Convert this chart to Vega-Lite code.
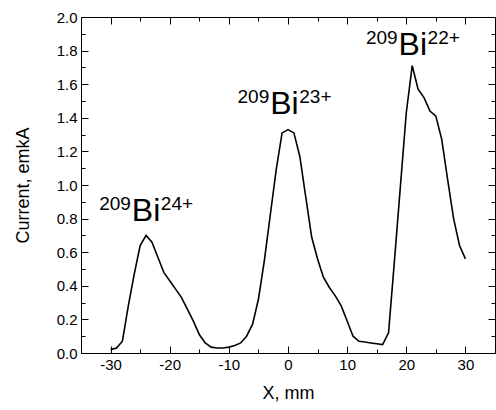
{
  "$schema": "https://vega.github.io/schema/vega-lite/v6.json",
  "width": 414,
  "height": 336,
  "autosize": {"type": "none"},
  "padding": {"left": 81, "top": 17, "right": 1, "bottom": 57},
  "background": "white",
  "config": {
    "font": "Liberation Sans",
    "view": {"stroke": null},
    "axis": {
      "grid": false,
      "domainColor": "black",
      "domainWidth": 1,
      "tickColor": "black",
      "tickWidth": 1,
      "labelColor": "black",
      "titleColor": "black",
      "labelFont": "Liberation Sans",
      "titleFont": "Liberation Sans",
      "labelFontSize": 15,
      "titleFontSize": 18,
      "titleFontWeight": "normal"
    },
    "text": {"font": "Liberation Sans", "color": "black"}
  },
  "datasets": {
    "scan": [
      {"x": -30, "y": 0.02}, {"x": -29, "y": 0.03}, {"x": -28, "y": 0.07}, {"x": -27, "y": 0.28},
      {"x": -26, "y": 0.47}, {"x": -25, "y": 0.64}, {"x": -24, "y": 0.70}, {"x": -23, "y": 0.66},
      {"x": -22, "y": 0.57}, {"x": -21, "y": 0.48}, {"x": -20, "y": 0.43}, {"x": -19, "y": 0.38},
      {"x": -18, "y": 0.33}, {"x": -17, "y": 0.26}, {"x": -16, "y": 0.19}, {"x": -15, "y": 0.11},
      {"x": -14, "y": 0.06}, {"x": -13, "y": 0.035}, {"x": -12, "y": 0.03}, {"x": -11, "y": 0.03},
      {"x": -10, "y": 0.035}, {"x": -9, "y": 0.045}, {"x": -8, "y": 0.06}, {"x": -7, "y": 0.10},
      {"x": -6, "y": 0.17}, {"x": -5, "y": 0.32}, {"x": -4, "y": 0.55}, {"x": -3, "y": 0.82},
      {"x": -2, "y": 1.09}, {"x": -1, "y": 1.31}, {"x": 0, "y": 1.33}, {"x": 1, "y": 1.31},
      {"x": 2, "y": 1.17}, {"x": 3, "y": 0.93}, {"x": 4, "y": 0.69}, {"x": 5, "y": 0.56},
      {"x": 6, "y": 0.45}, {"x": 7, "y": 0.39}, {"x": 8, "y": 0.34}, {"x": 9, "y": 0.28},
      {"x": 10, "y": 0.19}, {"x": 11, "y": 0.10}, {"x": 12, "y": 0.07}, {"x": 13, "y": 0.065},
      {"x": 14, "y": 0.06}, {"x": 15, "y": 0.055}, {"x": 16, "y": 0.05}, {"x": 17, "y": 0.12},
      {"x": 18, "y": 0.55}, {"x": 19, "y": 0.99}, {"x": 20, "y": 1.43}, {"x": 21, "y": 1.71},
      {"x": 22, "y": 1.57}, {"x": 23, "y": 1.52}, {"x": 24, "y": 1.44}, {"x": 25, "y": 1.41},
      {"x": 26, "y": 1.27}, {"x": 27, "y": 1.03}, {"x": 28, "y": 0.80}, {"x": 29, "y": 0.64},
      {"x": 30, "y": 0.56}
    ],
    "ions": [
      {"mass": "209", "element": "Bi", "charge": "24+", "x": -26.4, "y": 0.786},
      {"mass": "209", "element": "Bi", "charge": "23+", "x": -3.0, "y": 1.42},
      {"mass": "209", "element": "Bi", "charge": "22+", "x": 18.7, "y": 1.775}
    ]
  },
  "layer": [
    {
      "data": {"name": "scan"},
      "mark": {"type": "line", "color": "black", "strokeWidth": 1.6},
      "encoding": {
        "x": {
          "field": "x", "type": "quantitative",
          "scale": {"domain": [-35, 35], "nice": false, "zero": false},
          "axis": {
            "orient": "bottom",
            "title": "X, mm",
            "values": [-30, -25, -20, -15, -10, -5, 0, 5, 10, 15, 20, 25, 30],
            "labelExpr": "datum.value % 10 === 0 ? '' + datum.value : ''",
            "tickSize": {"condition": {"test": "datum.value % 10 === 0", "value": -7}, "value": -4},
            "labelPadding": 11,
            "titlePadding": 12
          }
        },
        "y": {
          "field": "y", "type": "quantitative",
          "scale": {"domain": [0, 2], "nice": false, "zero": true},
          "axis": {
            "orient": "left",
            "title": "Current, emkA",
            "values": [0, 0.1, 0.2, 0.3, 0.4, 0.5, 0.6, 0.7, 0.8, 0.9, 1.0, 1.1, 1.2, 1.3, 1.4, 1.5, 1.6, 1.7, 1.8, 1.9, 2.0],
            "format": ".1f",
            "labelExpr": "round(datum.value * 10) % 2 === 0 ? datum.label : ''",
            "tickSize": {"condition": {"test": "round(datum.value * 10) % 2 === 0", "value": -7}, "value": -4},
            "labelPadding": 11,
            "titlePadding": 24
          }
        }
      }
    },
    {
      "data": {"name": "ions"},
      "mark": {"type": "text", "font": "Liberation Sans", "fontSize": 32, "align": "left", "baseline": "alphabetic"},
      "encoding": {
        "x": {
          "field": "x", "type": "quantitative",
          "axis": {
            "orient": "top", "title": null, "labels": false,
            "values": [-30, -25, -20, -15, -10, -5, 0, 5, 10, 15, 20, 25, 30],
            "tickSize": {"condition": {"test": "datum.value % 10 === 0", "value": -7}, "value": -4}
          }
        },
        "y": {
          "field": "y", "type": "quantitative",
          "axis": {
            "orient": "right", "title": null, "labels": false,
            "values": [0, 0.1, 0.2, 0.3, 0.4, 0.5, 0.6, 0.7, 0.8, 0.9, 1.0, 1.1, 1.2, 1.3, 1.4, 1.5, 1.6, 1.7, 1.8, 1.9, 2.0],
            "tickSize": {"condition": {"test": "round(datum.value * 10) % 2 === 0", "value": -7}, "value": -4}
          }
        },
        "text": {"field": "element"}
      }
    },
    {
      "data": {"name": "ions"},
      "mark": {"type": "text", "font": "Liberation Sans", "fontSize": 19, "align": "right", "baseline": "alphabetic", "dx": -1, "dy": -11},
      "encoding": {
        "x": {"field": "x", "type": "quantitative", "axis": null},
        "y": {"field": "y", "type": "quantitative", "axis": null},
        "text": {"field": "mass"}
      }
    },
    {
      "data": {"name": "ions"},
      "mark": {"type": "text", "font": "Liberation Sans", "fontSize": 19, "align": "left", "baseline": "alphabetic", "dx": 29, "dy": -11},
      "encoding": {
        "x": {"field": "x", "type": "quantitative", "axis": null},
        "y": {"field": "y", "type": "quantitative", "axis": null},
        "text": {"field": "charge"}
      }
    }
  ],
  "resolve": {"axis": {"x": "independent", "y": "independent"}}
}
